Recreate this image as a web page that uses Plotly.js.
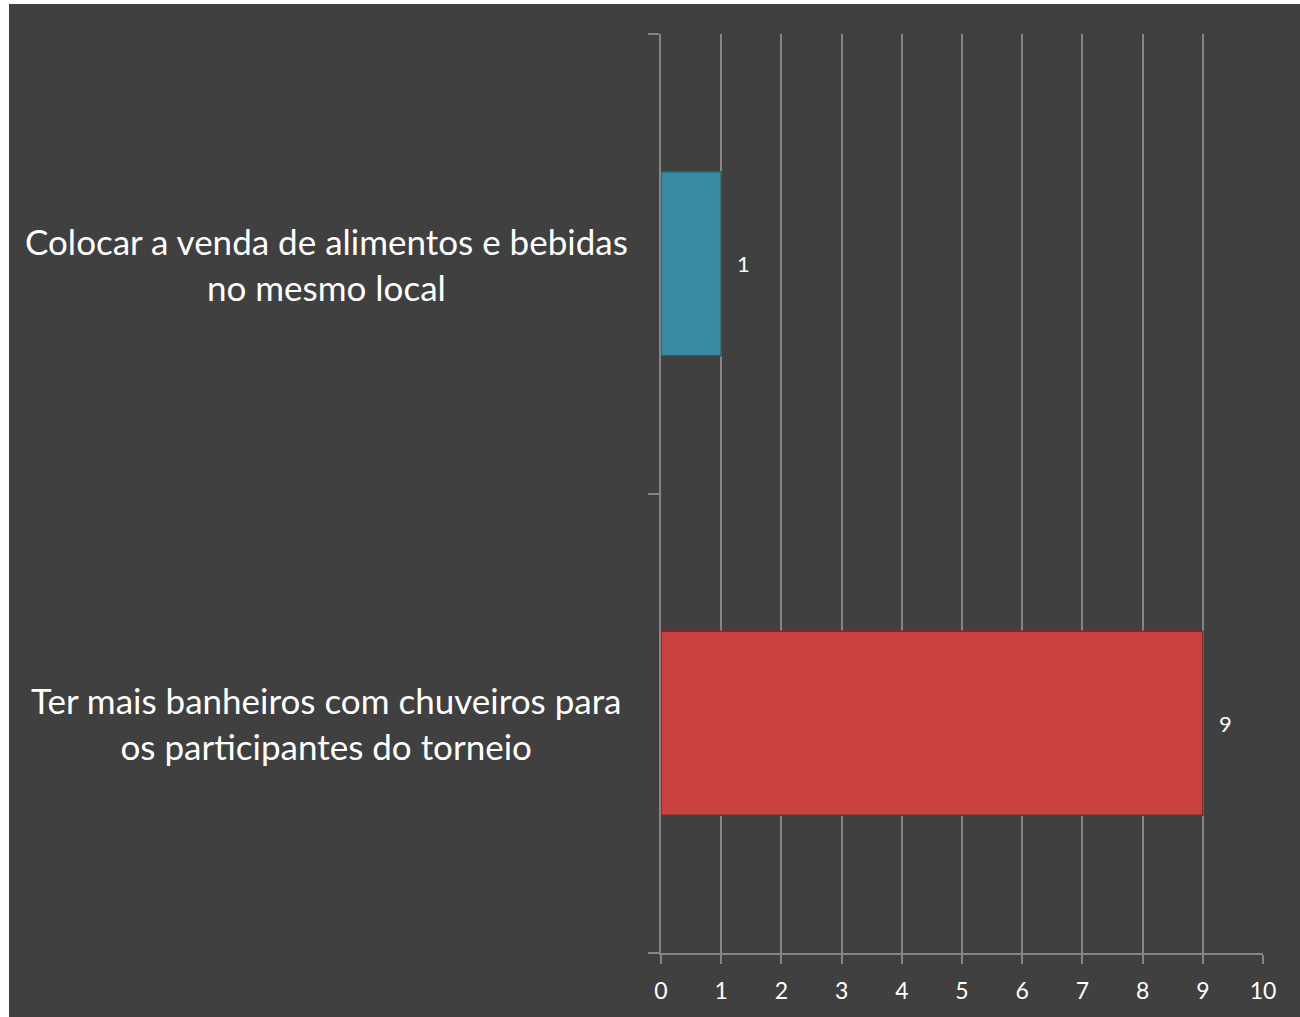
<!DOCTYPE html>
<html>
<head>
<meta charset="utf-8">
<script src="https://cdn.plot.ly/plotly-3.0.1.min.js"></script>
<style>
  html, body { margin: 0; padding: 0; background: #ffffff; }
  #chart { position: absolute; left: 9px; top: 4px; width: 1291px; height: 1013px; }
</style>
</head>
<body>
<div id="chart"></div>
<script>
// Categories listed bottom to top (Plotly puts the first category at the bottom)
const categories = [
  "Ter mais banheiros com chuveiros para<br>os participantes do torneio",
  "Colocar a venda de alimentos e bebidas<br>no mesmo local"
];
const values = [9, 1];
const barColors = ["#c84040", "#3889a1"];
const barEdges = ["#8a2424", "#235f70"];
const xTicks = [0, 1, 2, 3, 4, 5, 6, 7, 8, 9, 10];

const FONT = "Lato, 'Open Sans', sans-serif";
const GRID = "#858585";

const trace = {
  type: "bar",
  orientation: "h",
  y: categories,
  x: values,
  marker: { color: barColors, line: { color: barEdges, width: 1.5 } },
  hoverinfo: "x+y"
};

const catLabels = categories.map(c => ({
  xref: "paper", yref: "y",
  x: -0.555, y: c,
  text: c,
  showarrow: false,
  xanchor: "center", yanchor: "middle",
  align: "center",
  font: { family: FONT, size: 35, color: "#ffffff" }
}));

const valueLabels = categories.map((c, i) => ({
  xref: "x", yref: "y",
  x: values[i], y: c,
  text: String(values[i]),
  showarrow: false,
  xanchor: "left", yanchor: "middle",
  xshift: 14,
  font: { family: FONT, size: 22, color: "#ffffff" }
}));

const layout = {
  width: 1291, height: 1013,
  paper_bgcolor: "#404040",
  plot_bgcolor: "#404040",
  margin: { l: 652, r: 37, t: 30, b: 64 },
  bargap: 0.6,
  showlegend: false,
  xaxis: {
    range: [0, 10],
    tickvals: xTicks,
    ticktext: xTicks.map(String),
    showgrid: true, gridcolor: GRID, gridwidth: 1.5,
    zeroline: false,
    showline: true, linecolor: GRID, linewidth: 1.5,
    ticks: "outside", ticklen: 9, tickcolor: GRID, tickwidth: 1.5,
    ticklabelstandoff: 8,
    tickfont: { family: FONT, size: 23, color: "#ffffff" },
    fixedrange: true
  },
  yaxis: {
    type: "category",
    range: [-0.5, 1.5],
    showgrid: false, zeroline: false,
    showline: true, linecolor: GRID, linewidth: 1.5,
    ticks: "outside", tickson: "boundaries", ticklen: 11, tickcolor: GRID, tickwidth: 1.5,
    showticklabels: false,
    fixedrange: true
  },
  annotations: catLabels.concat(valueLabels)
};

Plotly.newPlot("chart", [trace], layout, { displayModeBar: false });
</script>
</body>
</html>
